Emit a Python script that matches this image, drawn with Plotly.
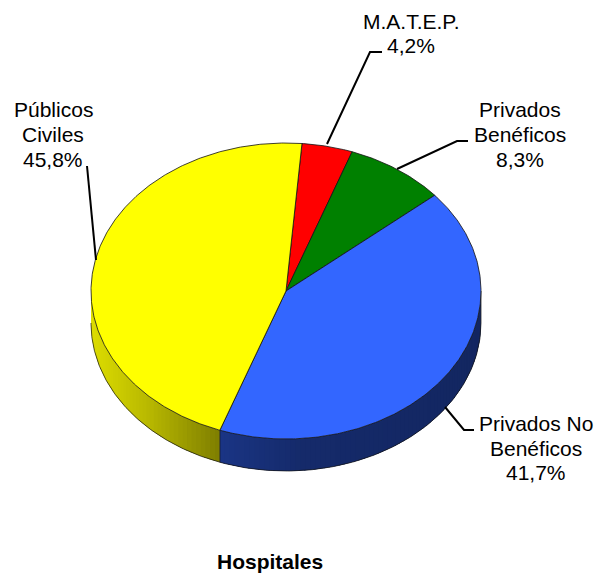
import numpy as np
import plotly.graph_objects as go

# Data, clockwise, beginning at the boundary just right of the top
categories = ["M.A.T.E.P.", "Privados<br>Benéficos", "Privados No<br>Benéficos", "Públicos<br>Civiles"]
values = [4.2, 8.3, 41.7, 45.8]
value_labels = ["4,2%", "8,3%", "41,7%", "45,8%"]
colors = [(255, 0, 0), (0, 128, 0), (51, 102, 255), (255, 255, 0)]
title = "Hospitales"

# Layout constants of the tilted disc, in page pixels
W, H = 602, 574
CX, CY, RX, RY, DEPTH = 286, 291, 195, 148, 32
START_DEG = 4.7
OUTLINE = "rgba(20,20,20,0.9)"
FONT = "Liberation Sans, Arial, sans-serif"
FS = 21
LINE_GAP = 24.8

label_pos = [(410.5, 33.5), (520, 134.5), (536, 448), (53, 134.5)]
leaders = [
    ([327, 370, 382], [144, 52, 52]),
    ([397, 457, 468], [169, 141, 141]),
    ([445, 464, 474], [407, 430, 430]),
    ([96, 87], [260, 166]),
]


def ex(t):
    return CX + RX * np.sin(np.radians(t))


def ey(t, dz=0):
    return CY - RY * np.cos(np.radians(t)) + dz


def shade(x):
    return float(np.interp(x, [91, 150, 219, 221, 300, 481], [0.87, 0.72, 0.5, 0.52, 0.42, 0.38]))


fig = go.Figure()
total = sum(values)
ends = START_DEG + np.cumsum(values) / total * 360
starts = np.concatenate([[START_DEG], ends[:-1]])

# Side wall: overlapping shaded strips on the front half
for s, e, c in zip(starts, ends, colors):
    lo, hi = max(s, 90), min(e, 270)
    if hi <= lo:
        continue
    n = max(2, int((hi - lo) / 1.5))
    edges = np.linspace(lo, hi, n + 1)
    for a, b in zip(edges[:-1], edges[1:]):
        tt = np.linspace(a, min(b + 2, hi), 6)
        xs = np.concatenate([ex(tt), ex(tt[::-1])])
        ys = np.concatenate([ey(tt), ey(tt[::-1], DEPTH)])
        f = shade(ex((a + b) / 2))
        col = "rgb(%d,%d,%d)" % tuple(int(v * f) for v in c)
        fig.add_trace(go.Scatter(x=xs, y=ys, mode="lines", fill="toself", fillcolor=col,
                                 line=dict(width=0), hoverinfo="skip", showlegend=False))
    # outlines of this wall section
    tt = np.linspace(lo, hi, 120)
    fig.add_trace(go.Scatter(x=ex(tt), y=ey(tt, DEPTH), mode="lines",
                             line=dict(color=OUTLINE, width=0.8), hoverinfo="skip", showlegend=False))
    fig.add_trace(go.Scatter(x=[ex(lo), ex(lo)], y=[ey(lo), ey(lo, DEPTH)], mode="lines",
                             line=dict(color=OUTLINE, width=0.8), hoverinfo="skip", showlegend=False))

# Top face wedges
for s, e, c in zip(starts, ends, colors):
    tt = np.linspace(s, e, max(8, int(e - s) * 2))
    xs = np.concatenate([[CX], ex(tt), [CX]])
    ys = np.concatenate([[CY], ey(tt), [CY]])
    fig.add_trace(go.Scatter(x=xs, y=ys, mode="lines", fill="toself",
                             fillcolor="rgb(%d,%d,%d)" % c,
                             line=dict(color=OUTLINE, width=0.9), hoverinfo="skip", showlegend=False))

# Leader lines
for lx, ly in leaders:
    fig.add_trace(go.Scatter(x=lx, y=ly, mode="lines", line=dict(color="black", width=2),
                             hoverinfo="skip", showlegend=False))

# Labels, placed line by line to hold the tighter line spacing of the reference
for cat, val, (x, y) in zip(categories, value_labels, label_pos):
    lines = cat.split("<br>") + [val]
    for i, line in enumerate(lines):
        fig.add_annotation(x=x, y=y + (i - (len(lines) - 1) / 2) * LINE_GAP, xref="x", yref="y",
                           text=line, showarrow=False, xanchor="center", yanchor="middle",
                           font=dict(family=FONT, size=FS, color="black"))

fig.add_annotation(x=270, y=561, xref="x", yref="y", text=f"<b>{title}</b>", showarrow=False,
                   xanchor="center", yanchor="middle", font=dict(family=FONT, size=FS, color="black"))

fig.update_xaxes(range=[0, W], visible=False, fixedrange=True)
fig.update_yaxes(range=[H, 0], visible=False, fixedrange=True)
fig.update_layout(width=W, height=H, margin=dict(l=0, r=0, t=0, b=0),
                  paper_bgcolor="white", plot_bgcolor="white", showlegend=False)
fig.write_html("out.html", config=dict(displayModeBar=False),
               post_script="document.body.style.margin='0';document.body.style.overflow='hidden';")
